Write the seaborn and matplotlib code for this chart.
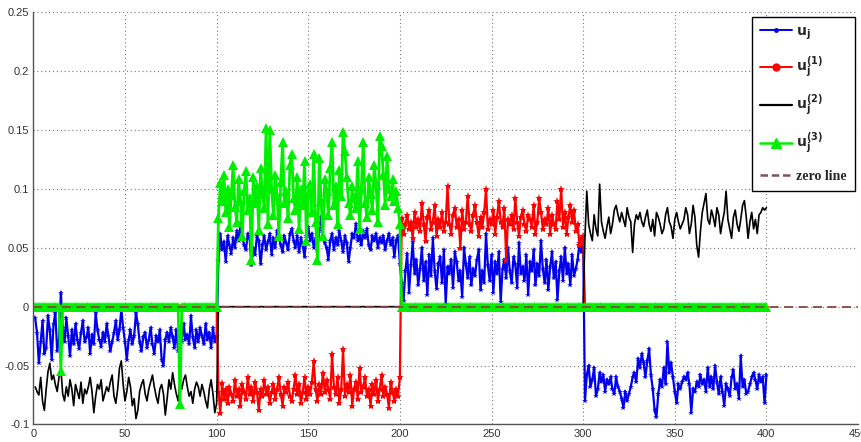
import numpy as np
import pandas as pd
import matplotlib.pyplot as plt
import seaborn as sns
from matplotlib.lines import Line2D
from matplotlib.ticker import FuncFormatter

# ============================
# Data (thousandths), x = 1..400
# ============================
blue_0 = [-10, -22, -48, -30, -12, -40, -35, -8, -20, -45,
          -15, -5, -38, -28, 12, -18, -30, -10, -25, -42,
          -20, -32, -15, -28, -36, -22, -12, -30, -26, -18,
          -40, -24, -32, -5, -20, -28, -34, -22, -30, -15,
          -25, -38, -30, -22, -12, -28, -20, -2, -18, -30,
          -45, -28, -20, -32, -25, -5, -15, -30, -38, -26,
          -22, -35, -28, -18, -32, -40, -25, -30, -20, -45,
          -50, -28, -22, -30, -18, -26, -35, -20, -38, -22,
          -30, -15, -28, -24, -32, -8, -26, -35, -20, -30,
          -18, -25, -32, -15, -28, -22, -35, -18, -30, -25]
blue_1 = [40, 62, 48, 55, 38, 60, 52, 45, 58, 50,
          64, 56, 70, 60, 52, 48, 62, 58, 35, 50,
          44, 60, 56, 36, 52, 60, 48, 55, 62, 44,
          58, 50, 64, 58, 52, 46, 60, 54, 48, 62,
          66, 56, 50, 60, 46, 58, 52, 42, 60, 68,
          56, 62, 50, 58, 48, 64, 76, 60, 54, 50,
          40, 56, 62, 48, 58, 52, 64, 56, 46, 60,
          54, 38, 50, 62, 58, 70, 56, 60, 52, 64,
          58, 66, 52, 48, 60, 56, 62, 50, 58, 54,
          60, 48, 56, 62, 52, 58, 42, 56, 60, 36]
blue_2 = [20, 5, 30, 45, 12, 35, 55, 28, 40, 18,
          32, 50, 22, 38, 10, 44, 26, 58, 30, 15,
          36, 42, 20, 48, 2, 34, 28, 40, 16, 46,
          38, 22, 30, 8, 50, 36, 24, 42, 18, 32,
          26, 40, 48, 14, 30, 20, 62, 35, 22, 44,
          12, 38, 28, 46, 4, 32, 40, 24, 50, 30,
          20, 42, 36, 16, 54, 28, 34, 22, 44, 10,
          38, 30, 48, 18, 36, 26, 56, 32, 20, 40,
          14, 34, 46, 24, 38, 6, 30, 42, 22, 50,
          28, 36, 18, 44, 26, 32, 40, 54, 46, 58]
blue_3 = [-80, -58, -50, -68, -62, -52, -76, -70, -56, -64,
          -58, -72, -62, -66, -60, -70, -74, -60, -68, -72,
          -78, -86, -72, -80, -74, -68, -60, -56, -64, -44,
          -52, -40, -48, -60, -46, -36, -58, -70, -88, -94,
          -74, -62, -68, -52, -66, -30, -56, -48, -60, -72,
          -82, -66, -70, -64, -60, -62, -56, -66, -90, -70,
          -72, -64, -68, -58, -66, -62, -72, -52, -68, -60,
          -70, -50, -64, -74, -60, -72, -84, -66, -70, -76,
          -60, -54, -70, -66, -78, -42, -68, -62, -74, -72,
          -66, -60, -56, -62, -70, -58, -64, -60, -82, -58]

red_1 = [-72, -90, -65, -78, -70, -82, -68, -74, -80, -62,
         -76, -70, -84, -66, -72, -78, -60, -74, -68, -80,
         -64, -72, -88, -70, -76, -62, -74, -68, -82, -72,
         -66, -78, -70, -60, -74, -84, -68, -72, -64, -76,
         -80, -70, -58, -74, -66, -82, -72, -60, -78, -68,
         -74, -64, -46, -70, -80, -66, -74, -56, -72, -62,
         -70, -78, -40, -68, -74, -60, -82, -70, -36, -76,
         -66, -72, -58, -84, -70, -64, -78, -52, -72, -68,
         -60, -76, -70, -84, -66, -74, -62, -80, -70, -58,
         -76, -68, -74, -86, -64, -72, -80, -70, -76, -60]
red_2 = [75, 62, 70, 78, 66, 72, 58, 80, 68, 74,
         64, 88, 70, 56, 76, 82, 66, 72, 86, 60,
         74, 68, 80, 64, 72, 102, 70, 62, 78, 84,
         68, 74, 50, 82, 66, 72, 94, 70, 64, 78,
         86, 72, 60, 76, 68, 80, 100, 66, 74, 70,
         82, 62, 76, 90, 72, 68, 84, 40, 74, 70,
         78, 66, 92, 72, 60, 76, 82, 70, 64, 78,
         74, 68, 86, 62, 72, 92, 80, 66, 74, 70,
         84, 62, 78, 70, 66, 90, 74, 100, 68, 80,
         62, 76, 86, 72, 82, 64, 70, 52, 58, 60]

black_0 = [-68, -72, -75, -60, -80, -88, -70, -55, -48, -62,
           -58, -66, -72, -60, -52, -74, -80, -68, -76, -62,
           -70, -84, -66, -72, -78, -64, -82, -70, -74, -68,
           -60, -72, -90, -76, -66, -70, -62, -80, -74, -68,
           -72, -64, -58, -76, -82, -70, -52, -46, -66, -80,
           -72, -60, -68, -84, -78, -95, -88, -72, -66, -62,
           -74, -80, -70, -64, -58, -68, -76, -82, -70, -66,
           -74, -92, -78, -62, -70, -56, -66, -74, -80, -64,
           -70, -62, -58, -68, -76, -72, -82, -70, -64, -68,
           -76, -66, -72, -80, -86, -70, -62, -74, -90, -82]
black_3 = [60, 98, 70, 62, 56, 78, 66, 60, 104, 72,
           64, 58, 68, 76, 62, 70, 82, 86, 78, 72,
           80, 74, 68, 84, 76, 72, 46, 70, 78, 74,
           80, 72, 68, 76, 82, 70, 64, 74, 60, 80,
           76, 70, 62, 66, 78, 84, 72, 68, 58, 74,
           80, 72, 66, 70, 74, 84, 78, 62, 70, 86,
           76, 52, 42, 64, 80, 88, 96, 74, 70, 82,
           76, 68, 84, 78, 62, 72, 80, 98, 74, 66,
           58, 76, 82, 70, 64, 74, 86, 90, 76, 58,
           72, 80, 66, 74, 62, 78, 80, 84, 82, 84]

green_0 = [0, 0, 0, 0, 0, 0, 0, 0, 0, 0,
           0, 0, 0, 0, -55, 0, 0, 0, 0, 0] + [0] * 59 + [-83] + [0] * 20
green_1 = [75, 105, 90, 112, 80, 100, 68, 95, 120, 85,
           72, 108, 90, 60, 98, 115, 82, 92, 40, 110,
           88, 102, 65, 118, 96, 84, 152, 70, 150, 100,
           78, 112, 94, 60, 106, 140, 88, 98, 75, 120,
           130, 92, 82, 110, 66, 100, 86, 124, 56, 96,
           104, 80, 130, 72, 40, 126, 90, 60, 108, 98,
           78, 118, 140, 86, 102, 70, 116, 94, 148, 132,
           110, 88, 78, 102, 92, 84, 124, 66, 100, 140,
           88, 76, 110, 96, 82, 120, 104, 72, 145, 136,
           112, 86, 128, 100, 94, 108, 90, 98, 84, 70]
zeros = [0] * 100

x = np.arange(1, 401)
u0 = np.array(blue_0 + blue_1 + blue_2 + blue_3) / 1000
u1 = np.array(zeros + red_1 + red_2 + zeros) / 1000
u2 = np.array(black_0 + zeros + zeros + black_3) / 1000
u3 = np.array(green_0 + green_1 + zeros + zeros) / 1000

# ============================
# Plot
# ============================
sns.set_style("white")
plt.rcParams["font.family"] = ["Liberation Sans", "DejaVu Sans"]

fig = plt.figure(figsize=(8.62, 4.42), dpi=100)
ax = fig.add_axes([0.0387, 0.0396, 0.9567, 0.933])

sns.lineplot(x=x, y=u0, ax=ax, color="#0000ee", lw=1.6, marker="*",
             markersize=4, markeredgewidth=0, estimator=None, sort=False)
sns.lineplot(x=x, y=u1, ax=ax, color="#ff0000", lw=1.6, marker="*",
             markersize=6, markeredgewidth=0, estimator=None, sort=False)
sns.lineplot(x=x, y=u2, ax=ax, color="black", lw=1.2,
             estimator=None, sort=False)
sns.lineplot(x=x, y=u3, ax=ax, color="#00ee00", lw=2.0, marker="^",
             markersize=6.5, markeredgewidth=0, estimator=None, sort=False)
ax.axhline(0, color="#8b4545", lw=1.3, ls=(0, (5, 3)), zorder=5)

ax.set_xlim(0, 450)
ax.set_ylim(-0.1, 0.25)
ax.set_xticks(np.arange(0, 451, 50))
ax.set_yticks(np.arange(-0.1, 0.251, 0.05))
ax.yaxis.set_major_formatter(FuncFormatter(lambda v, p: "%g" % round(v, 2)))
ax.grid(True, ls=(0, (1, 2.5)), color="#777777", lw=0.8)
ax.tick_params(labelsize=8, colors="#444444", direction="in", length=3,
               pad=3, labelcolor="#333333")
for s in ["top", "right"]:
    ax.spines[s].set_visible(False)
for s in ["left", "bottom"]:
    ax.spines[s].set_color("#555555")
    ax.spines[s].set_linewidth(1.0)
ax.set_xlabel("")
ax.set_ylabel("")

handles = [
    Line2D([], [], color="#0000ee", lw=1.4, marker="o", markersize=2.5),
    Line2D([], [], color="#ff0000", lw=1.4, marker="o", markersize=5),
    Line2D([], [], color="black", lw=1.6),
    Line2D([], [], color="#00ee00", lw=1.8, marker="^", markersize=7),
    Line2D([], [], color="#7a5555", lw=1.8, ls=(0, (3, 1.5))),
]
labels = [r"$\mathbf{u_j}$", r"$\mathbf{u_j^{(1)}}$", r"$\mathbf{u_j^{(2)}}$",
          r"$\mathbf{u_j^{(3)}}$", "zero line"]
leg = ax.legend(handles, labels, loc="upper right",
                bbox_to_anchor=(855 / 862, 1 - 17 / 442),
                bbox_transform=fig.transFigure, borderaxespad=0,
                frameon=True, fancybox=False,
                edgecolor="black", framealpha=1, handlelength=2.3,
                handletextpad=0.3, labelspacing=0.95, borderpad=0.6,
                prop={"family": "Liberation Serif", "weight": "bold",
                      "size": 10})
leg.get_frame().set_linewidth(1.0)

plt.savefig("out.png", dpi=100)
